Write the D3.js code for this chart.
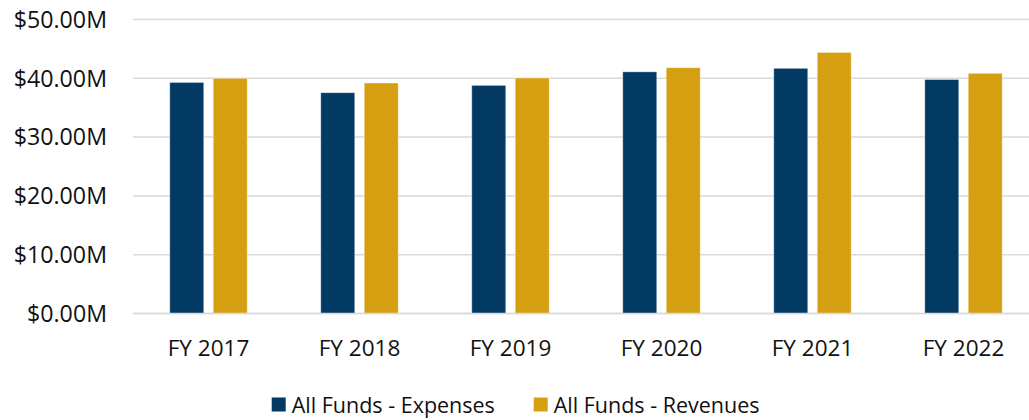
<!DOCTYPE html>
<html>
<head>
<meta charset="utf-8">
<script src="https://cdn.jsdelivr.net/npm/d3@7"></script>
<style>
  body { margin: 0; background: #fff; }
  svg { display: block; font-family: "Open Sans", sans-serif; }
</style>
</head>
<body>
<svg width="1029" height="420"></svg>
<script>
var years = ["FY 2017", "FY 2018", "FY 2019", "FY 2020", "FY 2021", "FY 2022"]
var seriesNames = ["All Funds - Expenses", "All Funds - Revenues"]
var expenses = [39.3, 37.55, 38.8, 41.1, 41.7, 39.8]
var revenues = [40.0, 39.2, 40.05, 41.8, 44.4, 40.85]
var yTicks = [0, 10, 20, 30, 40, 50]

var colors = ["#023a63", "#d69f12"]

var svg = d3.select("svg")
var width = 1029
var margin = ({top: 19.5, right: -10, bottom: 106.5, left: 133})
var height = 420

var data = years.map((y, i) => ({year: y, values: [expenses[i], revenues[i]]}))

var x0 = d3.scaleBand()
    .domain(years)
    .range([margin.left, width - margin.right])
    .paddingInner(0.487)
    .paddingOuter(0.2435)

var x1 = d3.scaleBand()
    .domain(d3.range(seriesNames.length))
    .range([0, x0.bandwidth()])
    .paddingInner(0.217)

var y = d3.scaleLinear()
    .domain([0, 50])
    .range([height - margin.bottom, margin.top])

// grid lines
svg.append("g").selectAll("line")
    .data(yTicks)
    .enter().append("line")
    .attr("x1", margin.left)
    .attr("x2", width)
    .attr("y1", d => y(d))
    .attr("y2", d => y(d))
    .attr("stroke", "#d9d9d9")
    .attr("stroke-width", 1.5)

// y labels
svg.append("g").selectAll("text")
    .data(yTicks)
    .enter().append("text")
    .attr("x", 107)
    .attr("y", d => y(d))
    .attr("dy", "0.36em")
    .attr("text-anchor", "end")
    .attr("font-size", "23.2px")
    .attr("fill", "#111")
    .text(d => "$" + d3.format(".2f")(d) + "M")

// bars
svg.append("g").selectAll("g")
    .data(data)
    .enter().append("g")
    .attr("transform", d => `translate(${x0(d.year)},0)`)
    .selectAll("rect")
    .data(d => d.values.map((v, i) => ({i: i, v: v})))
    .enter().append("rect")
    .attr("x", d => x1(d.i))
    .attr("y", d => y(d.v))
    .attr("width", x1.bandwidth())
    .attr("height", d => y(0) - y(d.v))
    .attr("fill", d => colors[d.i])
    .attr("stroke", "#ffffff")
    .attr("stroke-opacity", 0.5)
    .attr("stroke-width", 0.8)

// redraw baseline over bars
svg.append("line")
    .attr("x1", margin.left).attr("x2", width)
    .attr("y1", y(0)).attr("y2", y(0))
    .attr("stroke", "#d9d9d9").attr("stroke-width", 1.5)

// x labels
svg.append("g").selectAll("text")
    .data(years)
    .enter().append("text")
    .attr("x", d => x0(d) + x0.bandwidth() / 2)
    .attr("y", 355.7)
    .attr("text-anchor", "middle")
    .attr("font-size", "22.5px")
    .attr("fill", "#111")
    .text(d => d)

// legend
var legendX = [271.7, 533.7]
var legend = svg.append("g").selectAll("g")
    .data(seriesNames)
    .enter().append("g")
    .attr("transform", (d, i) => `translate(${legendX[i]},0)`)
legend.append("rect")
    .attr("x", 0).attr("y", 397.5)
    .attr("width", 14).attr("height", 14)
    .attr("fill", (d, i) => colors[i])
legend.append("text")
    .attr("x", 20).attr("y", 413)
    .attr("font-size", "21.5px")
    .attr("fill", "#111")
    .text(d => d)
</script>
</body>
</html>
